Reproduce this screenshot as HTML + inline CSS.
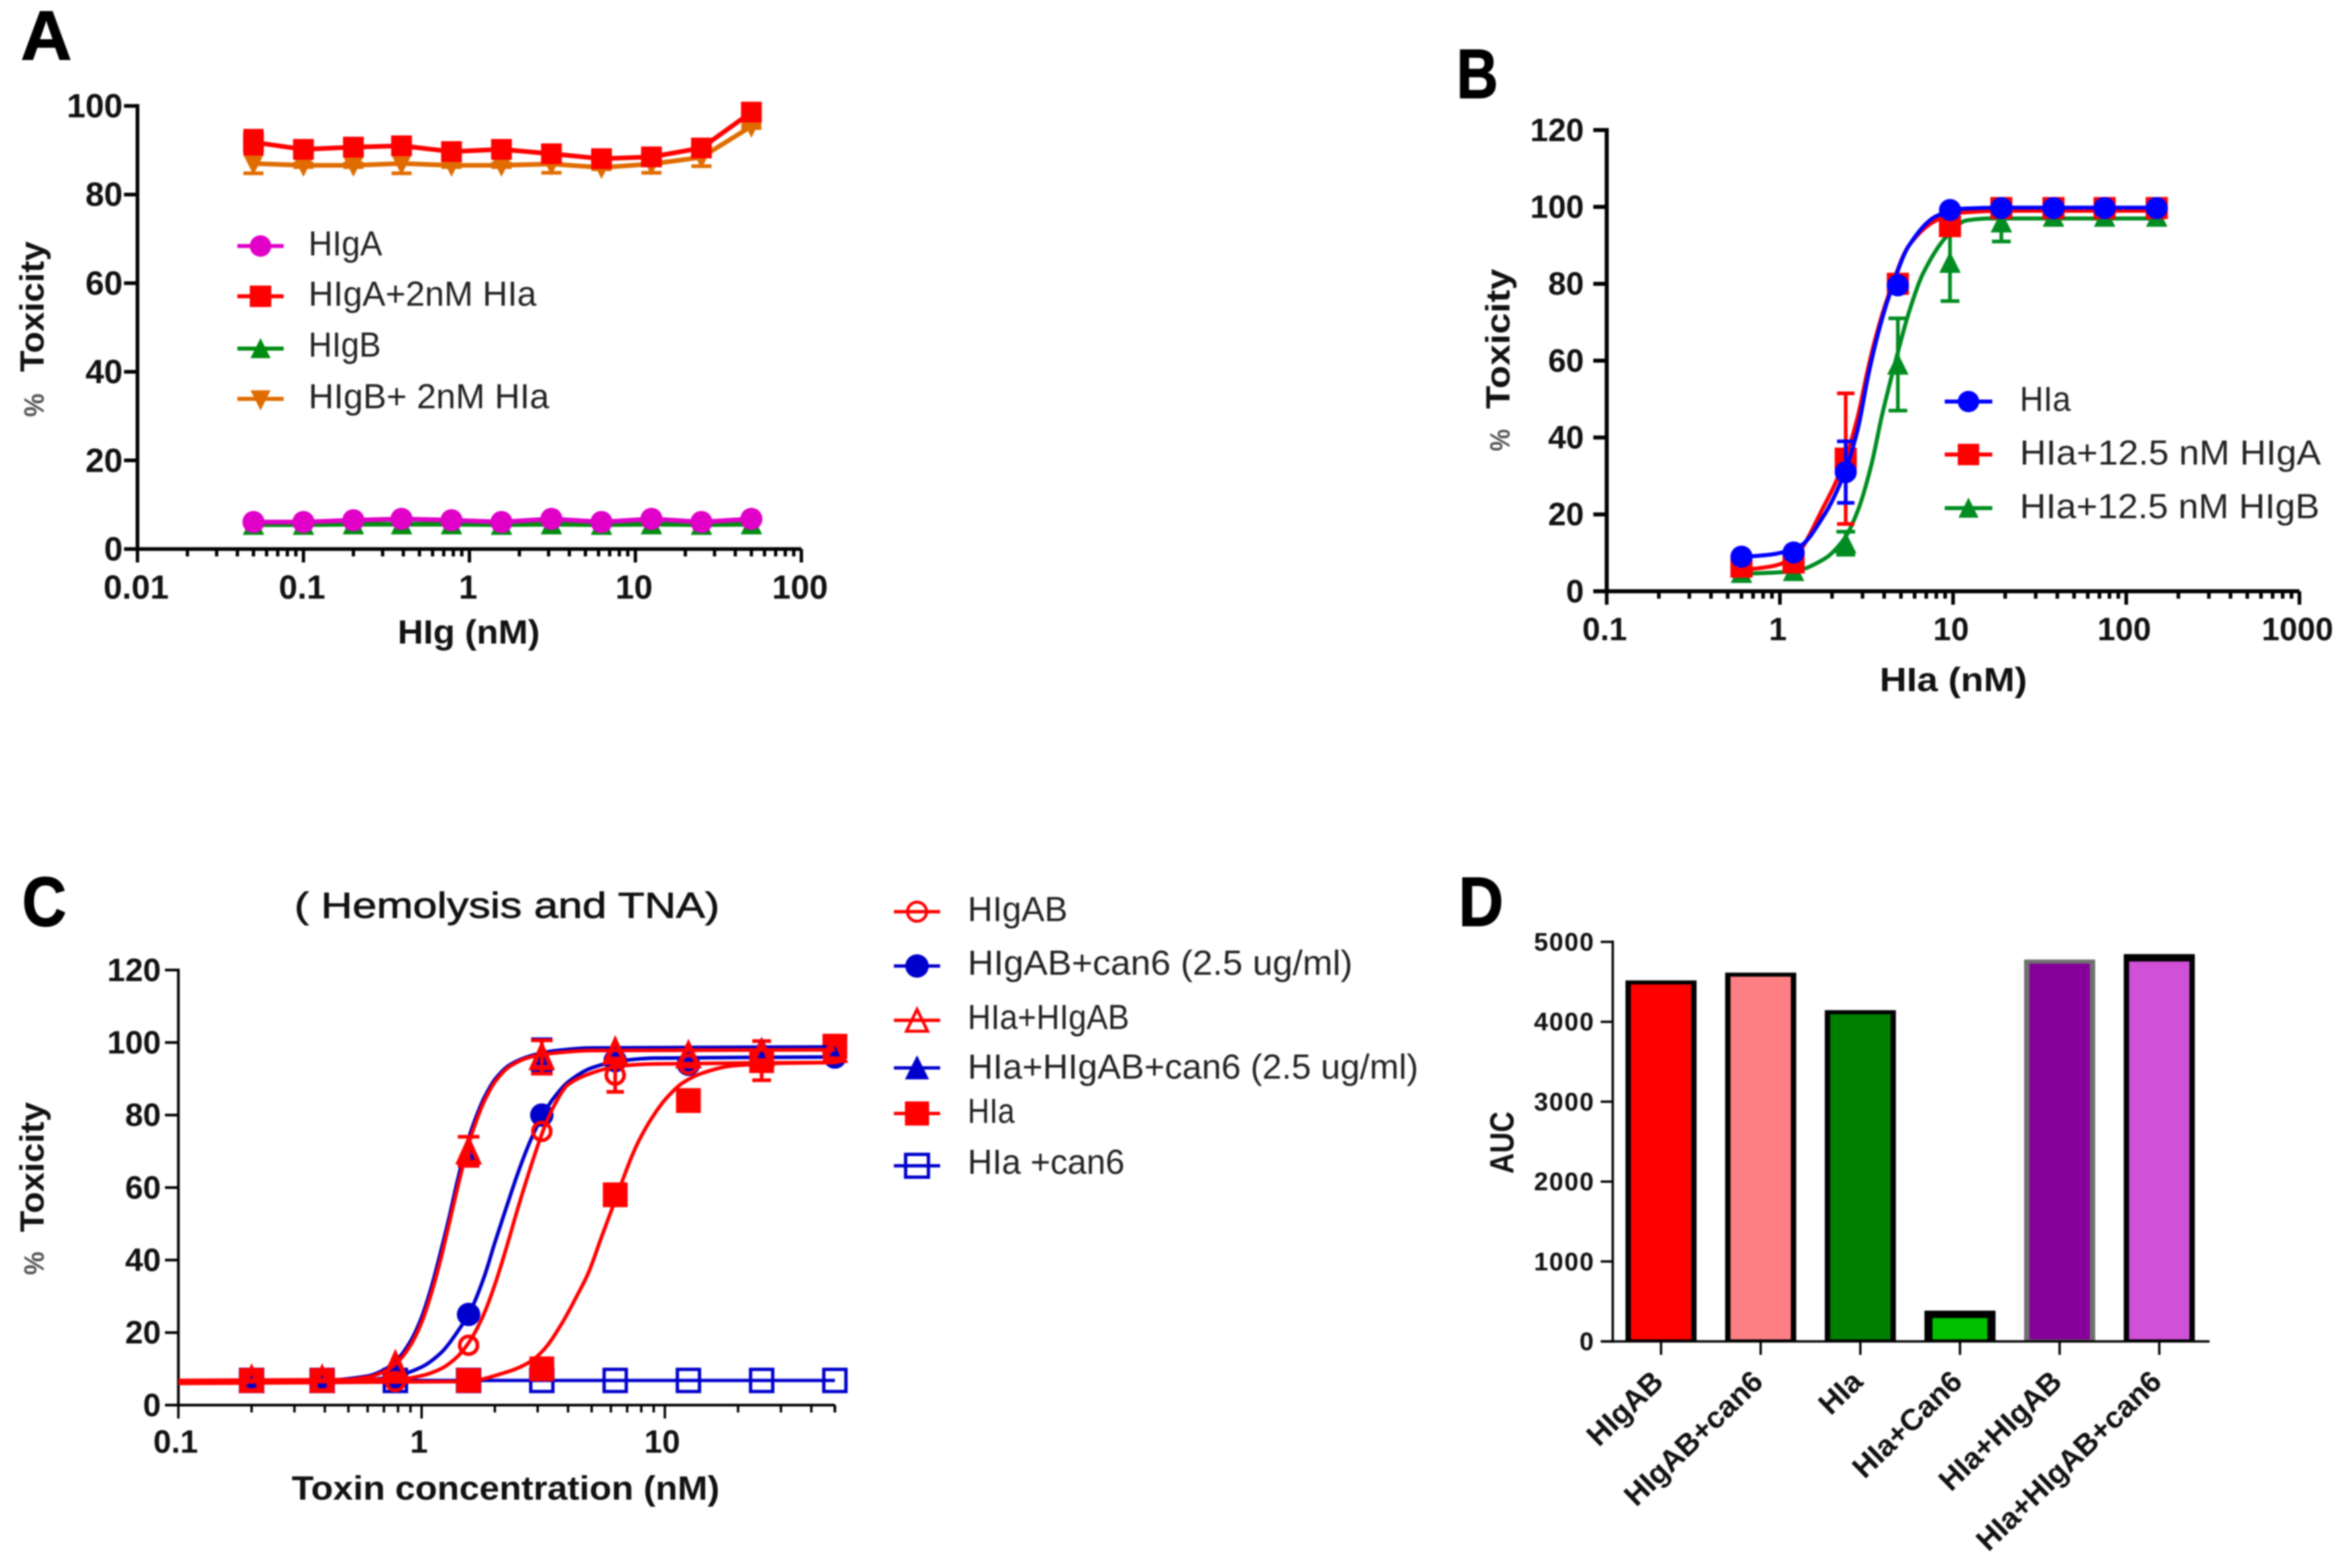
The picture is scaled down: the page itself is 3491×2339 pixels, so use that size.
<!DOCTYPE html>
<html lang="en">
<head>
<meta charset="utf-8">
<title>Toxicity figure panels A-D</title>
<style>
html,body{margin:0;padding:0;background:#fff;}
svg{display:block;filter:blur(1.1px);}
text{font-family:"Liberation Sans",sans-serif;fill:#111;}
.b{font-weight:700;}
.letter{font-weight:700;font-size:104px;fill:#000;stroke:#000;stroke-width:1.5px;}
.axt{font-weight:700;font-size:50px;}
.leg{font-size:52px;fill:#222;}
.pct{font-weight:700;font-size:42px;fill:#555;}
</style>
</head>
<body>
<svg id="fig" xmlns="http://www.w3.org/2000/svg" width="3491" height="2339" viewBox="0 0 3491 2339">
<rect x="0" y="0" width="3491" height="2339" fill="#fff"/>

<text class="letter" x="31" y="89" textLength="76" lengthAdjust="spacingAndGlyphs">A</text>
<text class="letter" x="2172" y="146" textLength="62" lengthAdjust="spacingAndGlyphs">B</text>
<text class="letter" x="33" y="1381" textLength="66" lengthAdjust="spacingAndGlyphs">C</text>
<text class="letter" x="2175" y="1381" textLength="67" lengthAdjust="spacingAndGlyphs">D</text>

<g id="panelA">
<text class="axt" x="593" y="960" textLength="212" lengthAdjust="spacingAndGlyphs">HIg (nM)</text>
<text class="axt" transform="translate(65,555) rotate(-90)" textLength="195" lengthAdjust="spacingAndGlyphs">Toxicity</text>
<text class="pct" transform="translate(65,622) rotate(-90)" textLength="35" lengthAdjust="spacingAndGlyphs">%</text>
<text class="leg" x="460" y="381" textLength="110" lengthAdjust="spacingAndGlyphs">HIgA</text>
<text class="leg" x="460" y="456" textLength="340" lengthAdjust="spacingAndGlyphs">HIgA+2nM HIa</text>
<text class="leg" x="460" y="532" textLength="108" lengthAdjust="spacingAndGlyphs">HIgB</text>
<text class="leg" x="460" y="609" textLength="359" lengthAdjust="spacingAndGlyphs">HIgB+ 2nM HIa</text>
</g>

<g id="panelB">
<text class="axt" x="2803" y="1031" textLength="220" lengthAdjust="spacingAndGlyphs">HIa (nM)</text>
<text class="axt" transform="translate(2251,610) rotate(-90)" textLength="209" lengthAdjust="spacingAndGlyphs">Toxicity</text>
<text class="pct" transform="translate(2251,673) rotate(-90)" textLength="33" lengthAdjust="spacingAndGlyphs">%</text>
<text class="leg" x="3012" y="613" textLength="76" lengthAdjust="spacingAndGlyphs">HIa</text>
<text class="leg" x="3012" y="693" textLength="449" lengthAdjust="spacingAndGlyphs">HIa+12.5 nM HIgA</text>
<text class="leg" x="3012" y="773" textLength="447" lengthAdjust="spacingAndGlyphs">HIa+12.5 nM HIgB</text>
</g>

<g id="panelC">
<text x="439" y="1369" font-size="54" stroke="#111" stroke-width="0.9" textLength="634" lengthAdjust="spacingAndGlyphs">( Hemolysis and TNA)</text>
<text class="axt" x="435" y="2237" textLength="638" lengthAdjust="spacingAndGlyphs">Toxin concentration (nM)</text>
<text class="axt" transform="translate(65,1838) rotate(-90)" textLength="194" lengthAdjust="spacingAndGlyphs">Toxicity</text>
<text class="pct" transform="translate(65,1902) rotate(-90)" textLength="35" lengthAdjust="spacingAndGlyphs">%</text>
<text class="leg" x="1443" y="1374" textLength="149" lengthAdjust="spacingAndGlyphs">HIgAB</text>
<text class="leg" x="1443" y="1454" textLength="574" lengthAdjust="spacingAndGlyphs">HIgAB+can6 (2.5 ug/ml)</text>
<text class="leg" x="1443" y="1535" textLength="241" lengthAdjust="spacingAndGlyphs">HIa+HIgAB</text>
<text class="leg" x="1443" y="1609" textLength="672" lengthAdjust="spacingAndGlyphs">HIa+HIgAB+can6 (2.5 ug/ml)</text>
<text class="leg" x="1443" y="1675" textLength="70" lengthAdjust="spacingAndGlyphs">HIa</text>
<text class="leg" x="1443" y="1751" textLength="234" lengthAdjust="spacingAndGlyphs">HIa +can6</text>
</g>

<g id="panelD">
<text class="b" font-size="50" transform="translate(2257,1751) rotate(-90)" textLength="93" lengthAdjust="spacingAndGlyphs">AUC</text>
</g>
</svg>

<script>
// ---------- Panel A data ----------
const aDoses = [0.05, 0.1, 0.2, 0.39, 0.78, 1.56, 3.12, 6.25, 12.5, 25, 50];
const aHlgA = [6.1, 6.1, 6.5, 6.8, 6.5, 6.1, 6.8, 6.1, 6.8, 6.1, 6.8];
const aHlgAHla = [91.8, 90.2, 90.7, 91, 89.7, 90.2, 89.2, 88.1, 88.5, 90.5, 98.6];
const aHlgB = [5.5, 5.5, 5.6, 5.6, 5.6, 5.5, 5.6, 5.5, 5.6, 5.5, 5.6];
const aHlgBHla = [87, 86.6, 86.6, 87, 86.6, 86.6, 86.9, 86.1, 86.9, 88.4, 95.4];
const aHlgAHlaErr = [2.6, 1, 1.2, 1.6, 1.2, 1.2, 1.2, 1, 1, 1.4, 1];
const aHlgBHlaErr = [2.2, 0.4, 0.4, 2.2, 0.4, 0.4, 2, 0.4, 2, 2, 0.4];
const aYTicks = [0, 20, 40, 60, 80, 100];
const aXTicks = ["0.01", "0.1", "1", "10", "100"];

// ---------- Panel B data ----------
const bDoses = [0.6, 1.2, 2.4, 4.8, 9.6, 19, 38, 75, 150];
const bHla = [9, 10.1, 31, 79.6, 99.2, 99.7, 99.7, 99.7, 99.7];
const bHlaHlgA = [6.4, 7.5, 34.5, 80, 95, 99.7, 99.7, 99.7, 99.7];
const bHlaHlgB = [4.8, 5.3, 12.5, 59, 85.5, 96, 97.5, 97.5, 97.5];
const bHlaErr = [0, 0, 8, 1, 0, 0, 0, 0, 0];
const bHlaHlgAErr = [0, 0, 17, 1, 0, 0, 0, 0, 0];
const bHlaHlgBErr = [0, 0, 3, 12, 10, 5, 0.5, 0, 0];
const bFitHlaX = [0.6, 0.9, 1.3, 1.79, 2.35, 2.82, 3.23, 3.7, 4.24, 5.57, 8, 11, 20, 150];
const bFitHlaY = [8.9, 9.6, 11.7, 19.6, 30.6, 42.3, 56, 67.3, 76.4, 90, 97.6, 99.5, 99.8, 99.8];
const bFitHlgAX = [0.6, 0.9, 1.2, 1.79, 2.35, 2.82, 3.23, 3.7, 4.24, 5.57, 8, 11, 20, 150];
const bFitHlgAY = [5.5, 6.5, 8.8, 22, 33.5, 45.5, 58, 68.5, 77, 90, 96.5, 98.5, 99, 99];
const bFitHlgBX = [0.6, 1.2, 1.79, 2.35, 2.82, 3.38, 3.87, 4.65, 5.57, 6.68, 9.17, 12, 16.5, 150];
const bFitHlgBY = [4.5, 5.2, 8.3, 13.6, 21, 33, 45.4, 59.8, 72.7, 82.5, 92.3, 96.5, 97, 97];
const bYTicks = [0, 20, 40, 60, 80, 100, 120];
const bXTicks = ["0.1", "1", "10", "100", "1000"];

// ---------- Panel C data ----------
const cDoses = [0.2, 0.39, 0.78, 1.56, 3.12, 6.25, 12.5, 25, 50];
const cHlgAB = [6.5, 6.5, 6.5, 16.5, 75.5, 91, 94, 96, 97];
const cHlgABCan6 = [6.8, 6.8, 7.5, 25, 80, 95, 94, 95, 96];
const cHlaHlgAB = [7, 7, 11, 70, 96, 97.5, 96.5, 97, 98];
const cHlaHlgABCan6 = [7, 7, 10, 70, 96.5, 98.3, 97, 98.5, 99];
const cHla = [6.8, 6.8, null, 6.8, 10, 58, 84, 95, 99];
const cHlaCan6 = [6.8, 6.8, 6.8, 6.8, 6.8, 6.8, 6.8, 6.8, 6.8];
const cHlgABErr = [0, 0, 0, 0, 0, 4.6, 0, 0, 0];
const cHlaHlgABErr = [0, 0, 0, 4, 4.6, 0, 0, 0, 0];
const cHlaHlgABCan6Err = [0, 0, 0, 4, 4.4, 0, 0, 0, 0];
const cHlaErr = [0, 0, 0, 0, 0, 0, 0, 5.4, 0];
const cFitHlgABX = [0.1, 0.8, 1, 1.2, 1.4, 1.6, 1.8, 2, 2.2, 2.5, 2.8, 3.15, 3.5, 4, 5, 6.5, 9, 50];
const cFitHlgABY = [6.8, 7.1, 8.1, 10, 13.3, 18.3, 25, 33.2, 42, 54.8, 65.4, 75.5, 82.5, 88.4, 91.6, 93.5, 94.1, 94.5];
const cFitCan6X = [0.1, 0.6, 0.8, 1, 1.2, 1.4, 1.6, 1.8, 2, 2.2, 2.5, 2.8, 3.15, 3.5, 4, 5, 6.5, 9, 50];
const cFitCan6Y = [6.6, 7, 8.2, 10.5, 14.4, 20.1, 26.5, 35, 44.8, 53.3, 64.4, 72.9, 80, 84.8, 89.1, 93, 94.9, 95.7, 96];
const cFitTriX = [0.1, 0.4, 0.6, 0.7, 0.8, 0.9, 1, 1.1, 1.2, 1.3, 1.4, 1.5, 1.6, 1.71, 1.8, 2, 2.3, 2.8, 3.5, 5, 50];
const cFitTriRedY = [6.4, 6.5, 7.7, 9.2, 12, 16.5, 22.8, 31.1, 40.5, 50.3, 59.5, 67.7, 74.4, 79.8, 83.5, 89.1, 93.4, 96, 97.1, 97.8, 98];
const cFitTriBlueY = [6.6, 6.8, 8, 9.7, 12.8, 17.6, 24.2, 32.8, 42.5, 52, 61.5, 69.5, 75.8, 81, 84.5, 89.8, 93.8, 96.3, 97.7, 98.5, 98.8];
const cFitHlaX = [0.1, 1.5, 2.26, 2.8, 3.2, 3.77, 4.3, 4.85, 5.5, 6.17, 6.7, 7.3, 7.86, 8.92, 10.1, 11.8, 14.3, 19.1, 30, 50];
const cFitHlaY = [6, 6.5, 9.2, 12, 15.5, 22.5, 29.5, 36.5, 46.5, 55.5, 62, 68.5, 73.2, 79.6, 84.5, 88.8, 91.6, 93.6, 94.3, 94.5];
const cFitCan6FlatX = [0.1, 50];
const cFitCan6FlatY = [6.8, 6.8];
const cYTicks = [0, 20, 40, 60, 80, 100, 120];
const cXTicks = ["0.1", "1", "10"];

// ---------- Panel D data ----------
const dCategories = ["HIgAB", "HIgAB+can6", "HIa", "HIa+Can6", "HIa+HIgAB", "HIa+HIgAB+can6"];
const dValues = [4518, 4615, 4145, 385, 4779, 4847];
const dYTicks = [0, 1000, 2000, 3000, 4000, 5000];
const dFills = ["#ff0000", "#ff8084", "#008000", "#00c000", "#86009a", "#d050d8"];
const dEdges = ["#000", "#000", "#000", "#000", "#707070", "#000"];

const NS = "http://www.w3.org/2000/svg";
function mk(tag, attrs, parent) {
  const e = document.createElementNS(NS, tag);
  for (const k in attrs) e.setAttribute(k, attrs[k]);
  parent.appendChild(e);
  return e;
}
function logScale(dMin, dMax, pMin, pMax) {
  const a = Math.log10(dMin), b = Math.log10(dMax);
  return v => pMin + (Math.log10(v) - a) / (b - a) * (pMax - pMin);
}
function linScale(dMin, dMax, pMin, pMax) {
  return v => pMin + (v - dMin) / (dMax - dMin) * (pMax - pMin);
}
function smoothPath(px) {
  const n = px.length;
  if (n < 3) return "M" + px.map(p => p[0].toFixed(1) + " " + p[1].toFixed(1)).join("L");
  const d = [], s = [], t = new Array(n).fill(0);
  for (let i = 0; i < n - 1; i++) {
    d[i] = px[i + 1][0] - px[i][0];
    s[i] = (px[i + 1][1] - px[i][1]) / d[i];
  }
  t[0] = s[0];
  t[n - 1] = s[n - 2];
  for (let i = 1; i < n - 1; i++) t[i] = s[i - 1] * s[i] <= 0 ? 0 : 2 * s[i - 1] * s[i] / (s[i - 1] + s[i]);
  let out = "M" + px[0][0].toFixed(1) + " " + px[0][1].toFixed(1);
  for (let i = 0; i < n - 1; i++) {
    const h = d[i] / 3;
    out += "C" + (px[i][0] + h).toFixed(1) + " " + (px[i][1] + t[i] * h).toFixed(1) + " " +
      (px[i + 1][0] - h).toFixed(1) + " " + (px[i + 1][1] - t[i + 1] * h).toFixed(1) + " " +
      px[i + 1][0].toFixed(1) + " " + px[i + 1][1].toFixed(1);
  }
  return out;
}
function drawMarker(parent, shape, cx, cy, size, color, strokeW) {
  const r = size / 2;
  const sw = strokeW || 5.5;
  if (shape === "circle") return mk("circle", {cx: cx, cy: cy, r: r, fill: color}, parent);
  if (shape === "openCircle") return mk("circle", {cx: cx, cy: cy, r: r - sw / 2, fill: "none", stroke: color, "stroke-width": sw}, parent);
  if (shape === "square") return mk("rect", {x: cx - r, y: cy - r, width: size, height: size, fill: color}, parent);
  if (shape === "openSquare") return mk("rect", {x: cx - r + sw / 2, y: cy - r + sw / 2, width: size - sw, height: size - sw, fill: "none", stroke: color, "stroke-width": sw}, parent);
  if (shape === "triUp") return mk("polygon", {points: [cx, cy - r * 1.05, cx + r, cy + r * 0.95, cx - r, cy + r * 0.95].join(" "), fill: color}, parent);
  if (shape === "triDown") return mk("polygon", {points: [cx, cy + r * 1.15, cx + r, cy - r * 0.85, cx - r, cy - r * 0.85].join(" "), fill: color}, parent);
  return mk("polygon", {points: [cx, cy - r * 0.9, cx + r - sw / 2, cy + r * 0.9, cx - r + sw / 2, cy + r * 0.9].join(" "), fill: "none", stroke: color, "stroke-width": sw, "stroke-linejoin": "miter"}, parent);
}
function drawLogAxes(panel, cfg) {
  const axis = mk("g", {stroke: "#000", fill: "none"}, panel);
  
  
  const yLine = mk("line", {x1: cfg.x0, x2: cfg.x0, y1: cfg.y(cfg.yTicks[cfg.yTicks.length - 1]) - cfg.sw / 2, y2: cfg.y0 + cfg.sw / 2, "stroke-width": cfg.sw}, axis);
  
  
  const xLine = mk("line", {x1: cfg.x0, x2: cfg.x1, y1: cfg.y0, y2: cfg.y0, "stroke-width": cfg.sw}, axis);
  
  
  cfg.yTicks.forEach(v => {
    const t = mk("line", {x1: cfg.x0 - 20, x2: cfg.x0, y1: cfg.y(v), y2: cfg.y(v), "stroke-width": cfg.sw}, axis);
    
    
    const lab = mk("text", {x: cfg.yLabelX, y: cfg.y(v) + cfg.fs * 0.34, "text-anchor": "end", class: "b", "font-size": cfg.fs}, panel);
    lab.textContent = String(v);
    
    
  });
  const first = Math.log10(parseFloat(cfg.xTicks[0]));
  const decadeCount = cfg.decades;
  for (let d = 0; d <= decadeCount; d++) {
    for (let m = 1; m <= (d === decadeCount ? 1 : 9); m++) {
      const v = m * Math.pow(10, first + d);
      if (v > cfg.xMax * 1.001) continue;
      const len = m === 1 ? 20 : 11;
      const t = mk("line", {x1: cfg.x(v), x2: cfg.x(v), y1: cfg.y0, y2: cfg.y0 + len, "stroke-width": cfg.sw * 0.9}, axis);
      
      
    }
  }
  if (cfg.endTick) {
    const t = mk("line", {x1: cfg.x(cfg.xMax), x2: cfg.x(cfg.xMax), y1: cfg.y0, y2: cfg.y0 + 11, "stroke-width": cfg.sw}, axis);
    
    
  }
  cfg.xTicks.forEach(s => {
    const lab = mk("text", {x: cfg.x(parseFloat(s)) + cfg.xLabelShift, y: cfg.xLabelY, "text-anchor": "middle", class: "b", "font-size": cfg.fs}, panel);
    lab.textContent = s;
    
    
  });
}
function drawFit(parent, cfg, s) {
  let d;
  if (s.fitX) d = smoothPath(s.fitX.map((v, i) => [cfg.x(v), cfg.y(s.fitY[i])]));
  else d = "M" + s.xs.map((v, i) => cfg.x(v).toFixed(1) + " " + cfg.y(s.ys[i]).toFixed(1)).join("L");
  const line = mk("path", {d: d, fill: "none", stroke: s.color, "stroke-width": s.lw, "stroke-linejoin": "round"}, parent);
  
  
}
function drawSeries(panel, cfg, s) {
  const g = mk("g", {}, panel);
  
  
  drawFit(g, cfg, s);
  s.xs.forEach((v, i) => {
    if (s.ys[i] === null) return;
    const px = cfg.x(v), py = cfg.y(s.ys[i]);
    const err = s.err ? s.err[i] : 0;
    if (err > 0) {
      const t = cfg.y(s.ys[i] + err), b = cfg.y(s.ys[i] - err), c = s.cap || 15;
      const eb = mk("path", {d: "M" + px + " " + t + "V" + b + "M" + (px - c) + " " + t + "H" + (px + c) + "M" + (px - c) + " " + b + "H" + (px + c), fill: "none", stroke: s.color, "stroke-width": 5.5}, g);
      
      
    }
    const m = drawMarker(g, s.shape, px, py, s.size, s.color, s.msw);
    
    
  });
}
function drawSwatch(panel, x0, x1, cy, shape, size, color, lw, msw) {
  const g = mk("g", {}, panel);
  
  
  mk("line", {x1: x0, x2: x1, y1: cy, y2: cy, stroke: color, "stroke-width": lw}, g);
  drawMarker(g, shape, (x0 + x1) / 2, cy, size, color, msw);
}

// ---------- Panel A ----------
const panelA = document.getElementById("panelA");
const cfgA = {x0: 205, x1: 1195, y0: 819, sw: 5.5, fs: 50, yLabelX: 183, xLabelY: 893, xLabelShift: -2, xTicks: aXTicks, yTicks: aYTicks, decades: 4, xMax: 100,
  x: logScale(0.01, 100, 205, 1195), y: linScale(0, 100, 819, 158)};
drawLogAxes(panelA, cfgA);
drawSeries(panelA, cfgA, {name: "hlgb", xs: aDoses, ys: aHlgB, color: "#008c10", shape: "triUp", size: 32, lw: 7});
drawSeries(panelA, cfgA, {name: "hlga", xs: aDoses, ys: aHlgA, color: "#e000c8", shape: "circle", size: 33, lw: 7});
drawSeries(panelA, cfgA, {name: "hlgb-hla", xs: aDoses, ys: aHlgBHla, err: aHlgBHlaErr, color: "#e06c00", shape: "triDown", size: 30, lw: 7, cap: 15});
drawSeries(panelA, cfgA, {name: "hlga-hla", xs: aDoses, ys: aHlgAHla, err: aHlgAHlaErr, color: "#ff0000", shape: "square", size: 31, lw: 7, cap: 15});
drawSwatch(panelA, 354, 423, 367, "circle", 32, "#e000c8", 6);
drawSwatch(panelA, 354, 423, 442, "square", 32, "#ff0000", 6);
drawSwatch(panelA, 354, 423, 520, "triUp", 30, "#008c10", 6);
drawSwatch(panelA, 354, 423, 595, "triDown", 30, "#e06c00", 6);

// ---------- Panel B ----------
const panelB = document.getElementById("panelB");
const cfgB = {x0: 2396, x1: 3429, y0: 882, sw: 6, fs: 48, yLabelX: 2362, xLabelY: 955, xLabelShift: -3, xTicks: bXTicks, yTicks: bYTicks, decades: 4, xMax: 1000,
  x: logScale(0.1, 1000, 2396, 3429), y: linScale(0, 120, 882, 194)};
drawLogAxes(panelB, cfgB);
drawSeries(panelB, cfgB, {name: "hla-hlgb", xs: bDoses, ys: bHlaHlgB, err: bHlaHlgBErr, fitX: bFitHlgBX, fitY: bFitHlgBY, color: "#008c20", shape: "triUp", size: 32, lw: 6, cap: 14});
drawSeries(panelB, cfgB, {name: "hla-hlga", xs: bDoses, ys: bHlaHlgA, err: bHlaHlgAErr, fitX: bFitHlgAX, fitY: bFitHlgAY, color: "#ff0000", shape: "square", size: 33, lw: 6, cap: 13});
drawSeries(panelB, cfgB, {name: "hla", xs: bDoses, ys: bHla, err: bHlaErr, fitX: bFitHlaX, fitY: bFitHlaY, color: "#0000ff", shape: "circle", size: 33, lw: 6, cap: 13});
drawSwatch(panelB, 2900, 2971, 599, "circle", 32, "#0000ff", 6);
drawSwatch(panelB, 2900, 2971, 678, "square", 32, "#ff0000", 6);
drawSwatch(panelB, 2900, 2971, 758, "triUp", 30, "#008c20", 6);

// ---------- Panel C ----------
const panelC = document.getElementById("panelC");
const cfgC = {x0: 266, x1: 1245, y0: 2096, sw: 4, fs: 48, yLabelX: 240, xLabelY: 2167, xLabelShift: -4, xTicks: cXTicks, yTicks: cYTicks, decades: 3, xMax: 50, endTick: true,
  x: logScale(0.1, 50, 266, 1245), y: linScale(0, 120, 2096, 1447)};
drawLogAxes(panelC, cfgC);
const cBlue = "#0000cc";
drawSeries(panelC, cfgC, {name: "hlgab-can6", xs: cDoses, ys: cHlgABCan6, fitX: cFitCan6X, fitY: cFitCan6Y, color: cBlue, shape: "circle", size: 35, lw: 5.5});
drawSeries(panelC, cfgC, {name: "hla-can6", xs: cDoses, ys: cHlaCan6, fitX: cFitCan6FlatX, fitY: cFitCan6FlatY, color: cBlue, shape: "openSquare", size: 38, lw: 5, msw: 5});
drawSeries(panelC, cfgC, {name: "hla-toxin", xs: cDoses, ys: cHla, err: cHlaErr, fitX: cFitHlaX, fitY: cFitHlaY, color: "#ff0000", shape: "square", size: 37, lw: 5.5, cap: 14});
drawSeries(panelC, cfgC, {name: "hla-hlgab-can6", xs: cDoses, ys: cHlaHlgABCan6, err: cHlaHlgABCan6Err, fitX: cFitTriX, fitY: cFitTriBlueY, color: cBlue, shape: "triUp", size: 32, lw: 5.5, cap: 16});
drawSeries(panelC, cfgC, {name: "hlgab", xs: cDoses, ys: cHlgAB, err: cHlgABErr, fitX: cFitHlgABX, fitY: cFitHlgABY, color: "#ff0000", shape: "openCircle", size: 32, lw: 5.5, msw: 5.5, cap: 13});
drawSeries(panelC, cfgC, {name: "hla-hlgab", xs: cDoses, ys: cHlaHlgAB, err: cHlaHlgABErr, fitX: cFitTriX, fitY: cFitTriRedY, color: "#ff0000", shape: "openTri", size: 36, lw: 5.5, msw: 7, cap: 16});
drawSwatch(panelC, 1333, 1402, 1360, "openCircle", 33, "#ff0000", 5, 4.5);
drawSwatch(panelC, 1333, 1402, 1441, "circle", 35, cBlue, 5);
drawSwatch(panelC, 1333, 1402, 1522, "openTri", 36, "#ff0000", 5, 4.5);
drawSwatch(panelC, 1333, 1402, 1593, "triUp", 36, cBlue, 5);
drawSwatch(panelC, 1333, 1402, 1661, "square", 36, "#ff0000", 5);
drawSwatch(panelC, 1333, 1402, 1739, "openSquare", 39, cBlue, 5, 5);

// ---------- Panel D ----------
const panelD = document.getElementById("panelD");
const dY = linScale(0, 5000, 2001, 1405);
const dX = i => 2477 + i * 148.6;
dValues.forEach((v, i) => {
  const cx = dX(i), halfW = 53, top = dY(v);
  const edge = dEdges[i];
  const outer = mk("rect", {x: cx - halfW, y: top, width: halfW * 2, height: 2001 - top, fill: edge}, panelD);
  
  
  const side = v < 1000 ? 12 : 8;
  const topEdge = (v < 1000 || i === 5) ? 11 : 6;
  const inner = mk("rect", {x: cx - halfW + side, y: top + topEdge, width: halfW * 2 - side * 2, height: 2001 - top - topEdge - 3, fill: dFills[i]}, panelD);
  
  
  const tick = mk("line", {x1: cx, x2: cx, y1: 2001, y2: 2021, stroke: "#000", "stroke-width": 3.5}, panelD);
  
  
  const lab = mk("text", {transform: "translate(" + (cx + 6) + ",2064) rotate(-44)", "text-anchor": "end", class: "b", "font-size": 45, fill: "#222"}, panelD);
  lab.textContent = dCategories[i];
  
  
});
const dYAxis = mk("line", {x1: 2405, x2: 2405, y1: dY(5000) - 2, y2: 2003, stroke: "#000", "stroke-width": 3.5}, panelD);


const dXAxis = mk("line", {x1: 2388, x2: 3295, y1: 2001, y2: 2001, stroke: "#000", "stroke-width": 3.5}, panelD);


dYTicks.forEach(v => {
  const t = mk("line", {x1: 2387, x2: 2405, y1: dY(v), y2: dY(v), stroke: "#000", "stroke-width": 3.5}, panelD);
  
  
  const lab = mk("text", {x: 2378, y: dY(v) + 13, "text-anchor": "end", class: "b", "font-size": 38, "letter-spacing": 1.5, fill: "#222"}, panelD);
  lab.textContent = String(v);
  
  
});
</script>
</body>
</html>
